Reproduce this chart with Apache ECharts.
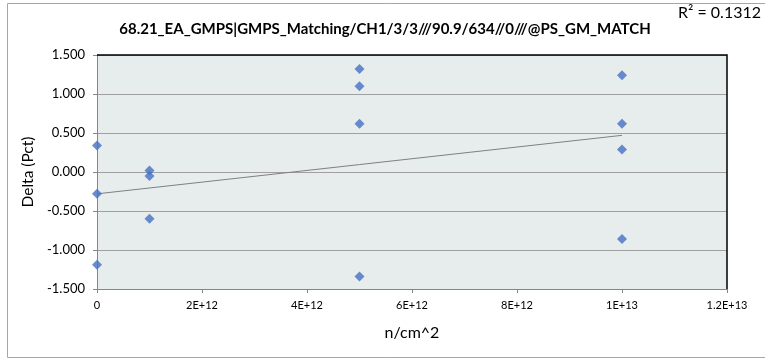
<!DOCTYPE html>
<html>
<head>
<meta charset="utf-8">
<script src="https://cdn.jsdelivr.net/npm/echarts@6/dist/echarts.min.js"></script>
<style>
  html, body { margin: 0; padding: 0; background: #fff; }
  #chart { width: 765px; height: 360px; }
</style>
</head>
<body>
<div id="chart"></div>
<script>
// fluence (n/cm^2) and delta values
var fluence = [0, 0, 0, 1e12, 1e12, 1e12, 5e12, 5e12, 5e12, 5e12, 1e13, 1e13, 1e13, 1e13];
var delta = [0.34, -0.28, -1.19, 0.02, -0.05, -0.60, 1.32, 1.10, 0.62, -1.34, 1.24, 0.62, 0.29, -0.86];

// linear trendline ends as shown in the chart
var trendX = [0, 1e13];
var trendY = [-0.28, 0.47];

var xTickLabels = ['0', '2E+12', '4E+12', '6E+12', '8E+12', '1E+13', '1.2E+13'];
var rSquared = 'R² = 0.1312';
var titleText = '68.21_EA_GMPS|GMPS_Matching/CH1/3/3///90.9/634//0///@PS_GM_MATCH';

var font = 'Lato, Carlito, Calibri, sans-serif';

var points = fluence.map(function (x, i) { return [x, delta[i]]; });
var trend = trendX.map(function (x, i) { return [x, trendY[i]]; });

var chart = echarts.init(document.getElementById('chart'));
chart.setOption({
  animation: false,
  textStyle: { fontFamily: font },
  title: {
    text: titleText,
    left: 380, top: 17, textAlign: 'center',
    textStyle: { fontFamily: font, fontSize: 15, fontWeight: 'bold', color: '#000' }
  },
  graphic: [
    { type: 'rect', shape: { x: 7.5, y: 3.5, width: 770, height: 354 },
      style: { fill: null, stroke: '#a6a6a6', lineWidth: 1 } },
    { type: 'text', left: 678, top: 5,
      style: { text: rSquared, font: '16px ' + font, fill: '#000' } },
    // dark border on top and right of the plot area
    { type: 'polyline', shape: { points: [[97, 55], [727, 55], [727, 289]] },
      style: { stroke: '#000', lineWidth: 1.5, fill: null }, z: 10 }
  ],
  grid: {
    left: 97, right: 38, top: 55, bottom: 71,
    show: true, backgroundColor: '#e7ecec', borderWidth: 0
  },
  xAxis: {
    type: 'value', min: 0, max: 1.2e13, interval: 2e12,
    name: 'n/cm^2', nameLocation: 'middle', nameGap: 36,
    nameTextStyle: { fontFamily: font, fontSize: 16, color: '#000' },
    axisLine: { show: true, onZero: false, lineStyle: { color: '#868686', width: 1 } },
    axisTick: { show: true, length: 4, lineStyle: { color: '#868686' } },
    axisLabel: {
      fontFamily: font, fontSize: 11, color: '#000', margin: 11,
      formatter: function (v) { return xTickLabels[Math.round(v / 2e12)]; }
    },
    splitLine: { show: false }
  },
  yAxis: {
    type: 'value', min: -1.5, max: 1.5, interval: 0.5,
    name: 'Delta (Pct)', nameLocation: 'middle', nameGap: 51, nameRotate: 90,
    nameTextStyle: { fontFamily: font, fontSize: 15.5, color: '#000' },
    axisLine: { show: true, onZero: false, lineStyle: { color: '#868686', width: 1 } },
    axisTick: { show: true, length: 4, lineStyle: { color: '#868686' } },
    axisLabel: {
      fontFamily: font, fontSize: 13, color: '#000', margin: 12,
      formatter: function (v) { return v.toFixed(3); }
    },
    splitLine: { show: true, lineStyle: { color: '#a0a0a0', width: 1.2 } }
  },
  series: [
    {
      type: 'line', data: trend, symbol: 'none', silent: true,
      lineStyle: { color: '#808080', width: 1 }, z: 3
    },
    {
      type: 'scatter', data: points, symbol: 'diamond', symbolSize: 10,
      itemStyle: { color: '#4472c4' }, z: 4
    }
  ]
});
</script>
</body>
</html>
